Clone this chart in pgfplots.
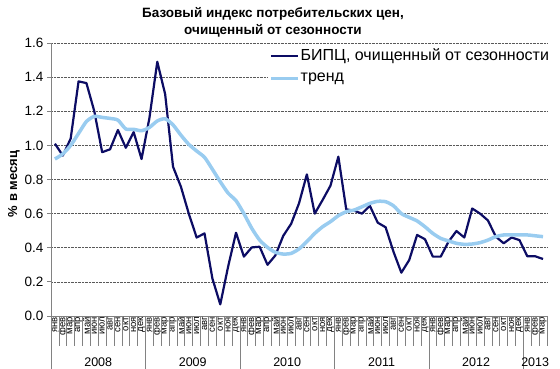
\documentclass[border=0pt]{standalone}
\usepackage{fontspec}
\setmainfont{Liberation Sans}
\usepackage{pgfplots}
\pgfplotsset{compat=1.18}
\definecolor{darkline}{RGB}{12,12,100}
\definecolor{trendline}{RGB}{153,204,240}
\definecolor{axgray}{RGB}{130,130,130}
\begin{document}
\begin{tikzpicture}
\begin{axis}[
  at={(51pt,53pt)}, anchor=south west,
  scale only axis, width=496pt, height=273pt,
  xmin=-0.5, xmax=62.5, ymin=0, ymax=1.6,
  axis x line*=bottom, axis y line*=left,
  axis line style={-, draw=axgray, line width=0.8pt},
  xtick={0,...,62},
  xticklabels={янв,фев,мар,апр,май,июн,июл,авг,сен,окт,ноя,дек,
               янв,фев,мар,апр,май,июн,июл,авг,сен,окт,ноя,дек,
               янв,фев,мар,апр,май,июн,июл,авг,сен,окт,ноя,дек,
               янв,фев,мар,апр,май,июн,июл,авг,сен,окт,ноя,дек,
               янв,фев,мар,апр,май,июн,июл,авг,сен,окт,ноя,дек,
               янв,фев,мар},
  xtick style={draw=none},
  xtick align=inside,
  xticklabel style={rotate=90, anchor=east, font=\fontsize{9.5}{10}\selectfont, inner sep=1pt},
  ytick={0,0.2,0.4,0.6,0.8,1.0,1.2,1.4,1.6},
  ytick align=outside,
  ytick style={draw=axgray, line width=0.8pt},
  major tick length=4pt,
  /pgf/number format/assume math mode=true,
  y tick label style={/pgf/number format/fixed, /pgf/number format/fixed zerofill, /pgf/number format/precision=1, font=\fontsize{13.5}{14}\selectfont},
  ymajorgrids,
  major grid style={densely dotted, black!65, line width=0.7pt},
  clip=false,
  legend style={at={(axis description cs:0.4375,0.99)}, anchor=north west, draw=none, fill=white,
    font=\fontsize{16}{17}\selectfont, inner sep=1pt, row sep=7pt, cells={anchor=west},
    nodes={inner xsep=1pt}},
  legend image code/.code={\draw[#1] (0pt,0pt) -- (27pt,0pt);},
]
\addplot[darkline, line width=2.2pt, line join=round] coordinates {
(0,1.01) (1,0.94) (2,1.04) (3,1.375) (4,1.365) (5,1.20) (6,0.96) (7,0.977) (8,1.09) (9,0.986)
(10,1.078) (11,0.92) (12,1.16) (13,1.49) (14,1.30) (15,0.875) (16,0.758) (17,0.60) (18,0.46) (19,0.484)
(20,0.22) (21,0.068) (22,0.29) (23,0.488) (24,0.348) (25,0.402) (26,0.406) (27,0.30) (28,0.355) (29,0.47)
(30,0.54) (31,0.66) (32,0.83) (33,0.60) (34,0.68) (35,0.764) (36,0.934) (37,0.625) (38,0.617) (39,0.60)
(40,0.646) (41,0.547) (42,0.52) (43,0.377) (44,0.254) (45,0.328) (46,0.475) (47,0.45) (48,0.348) (49,0.348)
(50,0.436) (51,0.498) (52,0.46) (53,0.63) (54,0.60) (55,0.56) (56,0.465) (57,0.426) (58,0.46) (59,0.445)
(60,0.35) (61,0.35) (62,0.334)};
\addlegendentry{БИПЦ, очищенный от сезонности}
\addplot[trendline, line width=3.5pt, smooth, tension=0.4, line join=round] coordinates {
(0,0.92) (1,0.95) (2,1.0) (3,1.07) (4,1.14) (5,1.17) (6,1.164) (7,1.158) (8,1.148) (9,1.096)
(10,1.094) (11,1.086) (12,1.105) (13,1.143) (14,1.156) (15,1.12) (16,1.06) (17,1.006) (18,0.967) (19,0.93)
(20,0.86) (21,0.787) (22,0.72) (23,0.676) (24,0.60) (25,0.514) (26,0.445) (27,0.402) (28,0.373) (29,0.363)
(30,0.367) (31,0.393) (32,0.436) (33,0.484) (34,0.523) (35,0.553) (36,0.588) (37,0.611) (38,0.621) (39,0.64)
(40,0.66) (41,0.672) (42,0.67) (43,0.646) (44,0.60) (45,0.578) (46,0.557) (47,0.523) (48,0.484) (49,0.455)
(50,0.44) (51,0.426) (52,0.42) (53,0.422) (54,0.43) (55,0.445) (56,0.465) (57,0.475) (58,0.475) (59,0.475)
(60,0.475) (61,0.47) (62,0.465)};
\addlegendentry{тренд}
\pgfplotsinvokeforeach{-0.5,0.5,...,62.5}{\draw[axgray, line width=0.7pt] (axis cs:#1,0) -- ([yshift=-30pt]axis cs:#1,0);}
\pgfplotsinvokeforeach{-0.5,11.5,23.5,35.5,47.5,59.5}{\draw[axgray, line width=0.8pt] (axis cs:#1,0) -- ([yshift=-53pt]axis cs:#1,0);}
\node[yshift=-46pt, font=\fontsize{12.5}{12.5}\selectfont] at (axis cs:5.5,0) {2008};
\node[yshift=-46pt, font=\fontsize{12.5}{12.5}\selectfont] at (axis cs:17.5,0) {2009};
\node[yshift=-46pt, font=\fontsize{12.5}{12.5}\selectfont] at (axis cs:29.5,0) {2010};
\node[yshift=-46pt, font=\fontsize{12.5}{12.5}\selectfont] at (axis cs:41.5,0) {2011};
\node[yshift=-46pt, font=\fontsize{12.5}{12.5}\selectfont] at (axis cs:53.5,0) {2012};
\node[yshift=-46pt, font=\fontsize{12.5}{12.5}\selectfont] at (axis cs:61,0) {2013};
\end{axis}
\node[font=\bfseries\fontsize{13.5}{17}\selectfont, align=center] at (273pt,347pt) {Базовый индекс потребительских цен,\\очищенный от сезонности};
\node[rotate=90, font=\bfseries\fontsize{13}{13}\selectfont] at (14pt,185pt) {\% в месяц};
\pgfresetboundingbox
\path[use as bounding box] (0,0) rectangle (560pt,369pt);
\end{tikzpicture}
\end{document}
